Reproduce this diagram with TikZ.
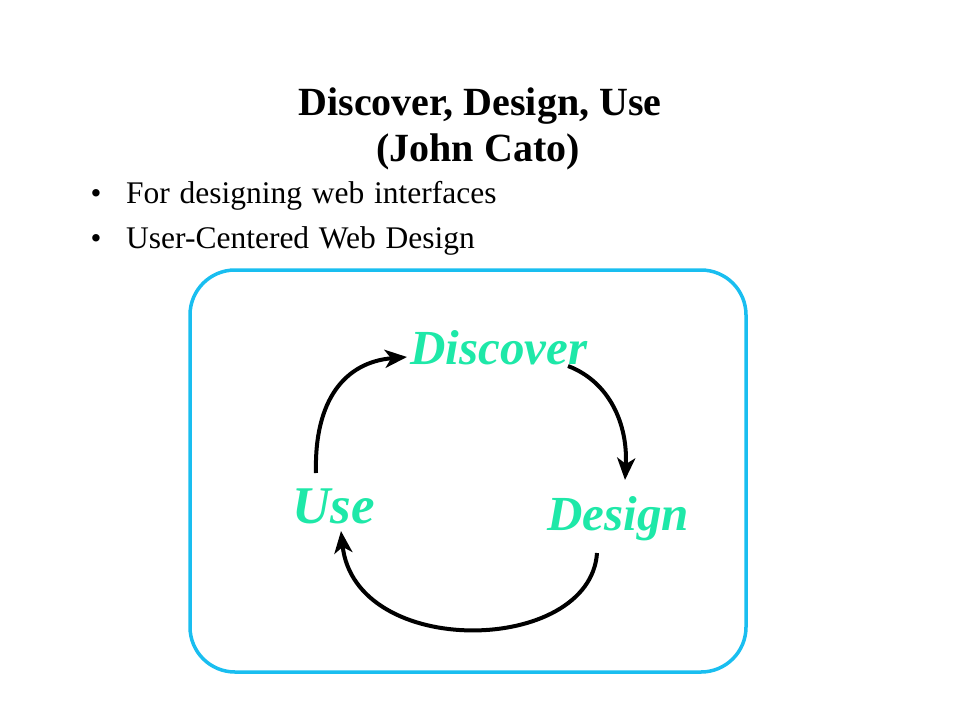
\documentclass[tikz,border=0pt]{standalone}
\usepackage{fontspec}
\setmainfont{Liberation Serif}
\usetikzlibrary{arrows.meta}
\definecolor{boxblue}{RGB}{25,190,240}
\definecolor{cyctext}{RGB}{30,232,168}
\newcommand\myWideSpace{\spaceskip=0.31em\relax}
\tikzset{
  titletext/.style={font=\fontsize{40}{46}\selectfont\bfseries, inner sep=0pt, anchor=base},
  bodytext/.style={font=\fontsize{31.5}{36}\selectfont\myWideSpace, inner sep=0pt, anchor=base west},
  bullettext/.style={font=\fontsize{31}{36}\selectfont, inner sep=0pt, anchor=base},
  cyclabel/.style={font=\fontsize{49}{54}\selectfont\bfseries\itshape, text=cyctext, inner sep=0pt, anchor=base west},
  cycarrow/.style={line width=4pt, -{Stealth[length=22pt,width=18pt,inset=6pt]}},
  frame/.style={draw=boxblue, line width=3.5pt, rounded corners=45pt}
}
\begin{document}
\begin{tikzpicture}[x=1pt,y=-1pt]
\useasboundingbox (0,0) rectangle (960,720);
% title
\node[titletext] (t1) at (480,115) {Discover, Design, Use};
\node[titletext] (t2) at (478,161) {(John Cato)};
% bullets
\node[bullettext] (b1) at (96,203) {•};
\node[bodytext] (l1) at (126,203) {For designing web interfaces};
\node[bullettext] (b2) at (96,248) {•};
\node[bodytext] (l2) at (126,248) {User-Centered Web Design};
% frame
\draw[frame] (190,270) rectangle (746,672);
% labels
\node[cyclabel] (disc) at (410,364) {Discover};
\node[cyclabel, font=\fontsize{53}{58}\selectfont\bfseries\itshape] (use) at (292,523) {Use};
\node[cyclabel] (des) at (547,530) {Design};
% arrow endpoints
\coordinate (a1s) at (316,473);
\coordinate (a1e) at (407,357);
\coordinate (a2s) at (568,366);
\coordinate (a2e) at (625,480);
\coordinate (a3s) at (597,553);
\coordinate (a3e) at (341,531);
\draw[cycarrow] (a1s) .. controls (314,400) and (345,362) .. (a1e);
\draw[cycarrow] (a2s) .. controls (610,382) and (628,425) .. (a2e);
\draw[cycarrow] (a3s) .. controls (590,655) and (355,660) .. (a3e);
\end{tikzpicture}
\end{document}
